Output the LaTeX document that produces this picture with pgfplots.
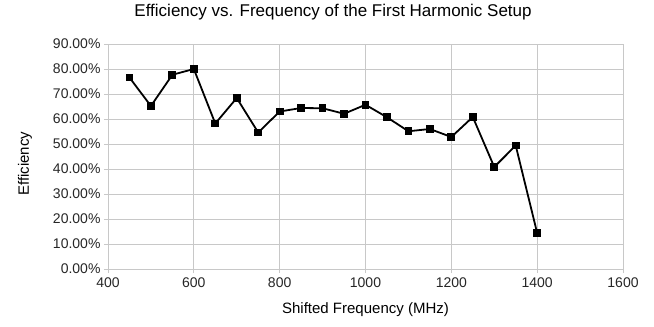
\documentclass[border=0pt]{standalone}
\usepackage{fontspec}
\setmainfont{Liberation Sans}
\usepackage{pgfplots}
\pgfplotsset{compat=1.18}

\definecolor{gridgray}{RGB}{200,200,200}

\begin{document}
\begin{tikzpicture}
\useasboundingbox (-108bp,-58bp) rectangle (546bp,269bp);
\begin{axis}[
    scale only axis,
    width=515bp, height=225bp,
    xmin=400, xmax=1600, ymin=0, ymax=90,
    xtick={400,600,...,1600},
    ytick={0,10,...,90},
    grid=major,
    major grid style={gridgray, line width=0.8pt},
    axis line style={gridgray, line width=0.8pt},
    axis x line*=bottom, axis y line*=left,
    tick style={gridgray, line width=0.8pt},
    tick align=outside,
    major tick length=4bp,
    /pgf/number format/assume math mode=true,
    /pgf/number format/set thousands separator={},
    tick label style={font=\fontsize{14bp}{16bp}\selectfont, text=black!85},
    x tick label style={yshift=-1bp},
    yticklabel={\pgfmathprintnumber[fixed,fixed zerofill,precision=2]{\tick}\%},
    xticklabel={\pgfmathprintnumber[int trunc]{\tick}},
    title={Efficiency vs. Frequency of the First Harmonic Setup},
    title style={font=\fontsize{17bp}{19bp}\selectfont, at={(axis description cs:0.437,1.1156)}, anchor=center},
    xlabel={Shifted Frequency (MHz)},
    ylabel={Efficiency},
    xlabel style={font=\fontsize{15bp}{17bp}\selectfont, at={(axis description cs:0.5,-0.182)}, anchor=center},
    ylabel style={font=\fontsize{15bp}{17bp}\selectfont, at={(axis description cs:-0.161,0.467)}, anchor=center},
    clip=false,
]
\addplot[black, line width=1.8pt, mark=square*, mark size=3bp, mark options={solid}] coordinates {
(450,76.6) (500,65.2) (550,77.7) (600,80.0) (650,58.2) (700,68.4)
(750,54.6) (800,63.0) (850,64.4) (900,64.3) (950,62.1) (1000,65.7)
(1050,60.7) (1100,55.1) (1150,56.0) (1200,52.8) (1250,60.8) (1300,40.8)
(1350,49.4) (1400,14.4)
};
\end{axis}
\end{tikzpicture}
\end{document}
